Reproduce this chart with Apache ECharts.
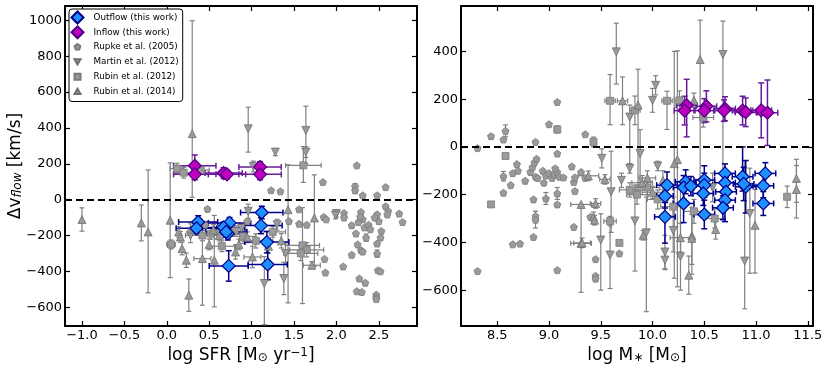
<!DOCTYPE html>
<html>
<head>
<meta charset="utf-8">
<script src="https://cdn.jsdelivr.net/npm/echarts@6/dist/echarts.min.js"></script>
<style>
html, body { margin: 0; padding: 0; background: #fff; }
#chart { width: 830px; height: 374px; }
</style>
</head>
<body>
<div id="chart"></div>
<script>
// each point: [x, y, xerr, yerr down, yerr up]
var outflowSfr = [
    [0.37, -125, 0.23, 35, 35], [0.35, -160, 0.24, 30, 30], [0.74, -130, 0.25, 30, 30],
    [0.67, -155, 0.25, 30, 30], [0.72, -190, 0.22, 35, 35], [0.70, -180, 0.24, 30, 30],
    [1.12, -72, 0.25, 35, 35], [1.11, -145, 0.25, 45, 45], [1.18, -237, 0.26, 60, 60],
    [0.73, -370, 0.23, 85, 85], [1.19, -362, 0.23, 85, 85]
];
var inflowSfr = [
    [0.33, 189, 0.25, 35, 60], [0.33, 141, 0.25, 30, 30], [0.67, 148, 0.22, 30, 30],
    [0.71, 141, 0.22, 25, 25], [1.10, 182, 0.25, 30, 30], [1.10, 141, 0.25, 30, 30]
];
var rupkeSfr = [
    [1.23, 52], [1.34, 46], [0.48, -52], [1.84, 98], [1.86, -331], [1.87, -407], [2.24, 191],
    [2.22, 74, 0, 15, 15], [2.22, 51], [2.31, 24], [2.48, 24], [2.58, 70], [2.58, -37], [2.61, -63],
    [2.60, -83], [2.74, -78], [2.78, -125], [2.09, -75], [2.09, -100], [2.18, -143], [2.23, -189],
    [2.29, -69], [2.31, -110], [2.33, -155], [2.38, -140], [2.35, -212, 0, 20, 20], [2.48, -82],
    [2.50, -120], [2.53, -175], [2.48, -245], [2.48, -301, 0, 20, 20], [2.18, -308], [2.08, -373],
    [2.29, -282], [2.31, -290], [2.25, -250], [2.49, -394], [2.52, -400], [2.27, -440], [2.34, -464],
    [2.24, -511], [2.30, -515], [2.47, -530], [2.47, -545], [2.47, -555], [1.85, -97], [1.88, -110],
    [2.26, -125], [2.28, -95, 0, 20, 20], [2.40, -165], [2.45, -100], [2.52, -212], [1.56, -54],
    [1.56, -135], [1.44, -120], [1.65, -140], [0.45, -140], [0.95, -120]
];
var martinSfr = [
    [0.96, 395, 0, 130, 120], [1.64, 386, 0, 185, 135], [1.64, 265, 0, 30, 30], [1.28, 265, 0, 20, 20],
    [2.00, -78, 0, 20, 20], [1.99, -87, 0, 20, 20], [1.15, -468, 0, 230, 150], [1.40, -300, 0, 60, 60],
    [1.38, -440, 0, 90, 90], [1.02, 185, 0, 30, 30], [0.28, -200, 0, 40, 40], [0.60, -190, 0, 30, 30],
    [0.96, -65, 0, 40, 40], [1.30, -140, 0, 30, 30], [0.88, -160, 0, 25, 25]
];
var rubin12Sfr = [
    [1.61, 191, 0.21, 95, 105], [0.05, -250, 0.05, 25, 25], [0.12, 173, 0.08, 30, 30],
    [0.40, 165, 0.1, 25, 25], [0.20, 150, 0.1, 30, 30], [1.60, -255, 0.2, 325, 210],
    [1.65, -280, 0.2, 40, 40], [1.58, -300, 0.2, 40, 40], [0.90, -205, 0.15, 40, 40],
    [0.52, -190, 0.15, 30, 30], [1.05, -230, 0.2, 40, 40], [0.42, -200, 0.2, 30, 30],
    [0.80, -175, 0.15, 30, 30], [1.25, -180, 0.15, 30, 30], [0.65, -260, 0.15, 30, 30]
];
var rubin14Sfr = [
    [-1.00, -111, 0, 65, 65], [-0.30, -130, 0, 100, 100], [-0.22, -180, 0, 340, 345],
    [0.04, -115, 0, 320, 320], [0.30, 368, 0, 355, 630], [0.14, -180, 0, 30, 30],
    [0.16, -208, 0, 30, 30], [0.18, -273, 0, 35, 35], [0.23, -338, 0, 40, 40],
    [0.26, -533, 0, 90, 90], [0.42, -329, 0.1, 260, 160], [0.56, -338, 0, 260, 250],
    [0.81, -292, 0, 40, 40], [1.01, -320, 0.1, 60, 60], [1.71, -366, 0.1, 20, 20],
    [1.74, -102, 0, 270, 240], [1.43, -56, 0, 520, 250], [0.28, -165, 0, 30, 30],
    [0.55, -170, 0, 30, 30], [0.62, -200, 0, 30, 30], [0.95, -210, 0, 30, 30],
    [1.35, -230, 0, 40, 40], [0.50, -250, 0, 30, 30], [0.85, -250, 0, 30, 30], [1.20, -260, 0, 40, 40]
];

var outflowMass = [
    [10.14, -160, 0.1, 55, 55], [10.12, -206, 0.08, 50, 50], [10.12, -293, 0.1, 110, 60],
    [10.32, -146, 0.1, 50, 50], [10.30, -170, 0.1, 50, 50], [10.30, -237, 0.1, 80, 60],
    [10.37, -164, 0.1, 40, 40], [10.50, -139, 0.1, 60, 60], [10.50, -160, 0.08, 50, 50],
    [10.49, -195, 0.1, 50, 50], [10.50, -283, 0.1, 60, 60], [10.70, -111, 0.1, 40, 40],
    [10.70, -150, 0.1, 50, 50], [10.71, -188, 0.1, 60, 60], [10.70, -223, 0.1, 90, 70],
    [10.68, -255, 0.1, 50, 50], [10.87, -125, 0.1, 60, 125], [10.90, -167, 0.1, 110, 110],
    [10.88, -155, 0.1, 70, 70], [11.09, -111, 0.1, 45, 45], [11.07, -163, 0.1, 50, 50],
    [11.07, -237, 0.1, 50, 50]
];
var inflowMass = [
    [10.33, 174, 0.1, 132, 109], [10.31, 152, 0.1, 60, 60], [10.52, 170, 0.1, 65, 65],
    [10.50, 152, 0.1, 50, 50], [10.70, 160, 0.1, 50, 50], [10.69, 152, 0.1, 45, 45],
    [10.87, 152, 0.1, 60, 60], [10.90, 145, 0.1, 60, 60], [11.05, 153, 0.1, 115, 115],
    [11.11, 143, 0.1, 137, 137]
];
var rupkeMass = [
    [8.31, -5], [8.31, -520], [8.44, 45], [8.56, 31], [8.58, 67, 0, 25, 25], [8.56, -123, 0, 20, 20],
    [8.56, -192], [8.63, -160], [8.65, -110], [8.69, -72], [8.70, -100], [8.77, -142], [8.82, -105],
    [8.84, -85], [8.86, -65], [8.88, -50], [8.87, -125], [8.89, -130], [8.85, -220],
    [8.87, -290, 0, 20, 20], [8.87, -305, 0, 35, 35], [8.85, -377], [8.65, -408], [8.72, -405],
    [8.87, 21], [8.94, -100], [8.97, -120], [9.00, -110], [9.03, -130], [9.05, -115], [9.08, -105],
    [9.10, -125], [9.00, 95], [9.08, 188], [9.08, -28], [8.97, -216, 0, 25, 25], [9.08, -195, 0, 25, 25],
    [9.08, -241], [9.08, -516], [9.14, -128], [9.22, -82], [9.24, -147], [9.25, -128], [9.25, -185],
    [9.24, -335], [9.35, 53], [9.31, -105], [9.35, -130], [9.40, -293], [9.45, -470], [9.45, -540],
    [9.45, -552], [9.68, -446], [9.06, -90], [8.95, -150]
];
var martinMass = [
    [9.65, 398, 0, 135, 120], [9.78, 125, 0, 195, 50], [10.03, 258, 0, 40, 40], [10.00, 195, 0, 50, 50],
    [9.88, -28, 0, 120, 100], [9.51, -48, 0, 40, 40], [9.60, -188, 0, 170, 170], [9.50, -390, 0, 210, 110],
    [9.59, -453, 0, 140, 140], [10.27, -460, 0, 140, 300], [10.89, -478, 0, 200, 420],
    [10.94, -279, 0, 250, 190], [10.68, 387, 0, 580, 140], [9.94, -360, 0, 330, 150],
    [10.12, -440, 0, 70, 70], [10.12, -474, 0, 40, 40], [9.78, -90, 0, 20, 20], [9.70, -140, 0, 30, 30],
    [10.05, -80, 0, 20, 20], [9.83, -310, 0, 210, 150], [10.20, -350, 0, 90, 90], [10.58, -170, 0, 60, 60]
];
var rubin12Mass = [
    [8.44, -241], [8.58, -38], [9.08, 73, 0, 15, 15], [9.43, 21, 0, 20, 20], [9.59, 193, 0.05, 100, 110],
    [9.83, 153, 0.05, 60, 60], [10.14, 193, 0.05, 120, 40], [10.26, 195, 0.05, 40, 40],
    [10.49, 123, 0.1, 40, 40], [11.30, -209, 0, 45, 45], [9.59, -311, 0.06, 20, 20], [9.68, -402],
    [9.78, -180, 0.1, 30, 30], [9.85, -200, 0.1, 40, 40], [9.95, -170, 0.12, 30, 30],
    [10.05, -220, 0.1, 40, 40], [10.20, -250, 0.12, 40, 40], [10.40, -270, 0.1, 50, 50],
    [10.60, -300, 0.1, 40, 40]
];
var rubin14Mass = [
    [9.71, 193, 0.05, 100, 100], [9.86, 175, 0, 360, 150], [10.24, -53, 0, 533, 455],
    [10.21, -70, 0, 480, 470], [10.40, 195, 0, 30, 30], [10.46, 366, 0, 500, 165],
    [9.31, -241, 0.1, 0, 0], [9.31, -404, 0.1, 205, 160], [9.38, -121, 0.1, 20, 20],
    [9.54, -136, 0.05, 20, 20], [9.45, -237, 0.05, 20, 20], [9.43, -293, 0, 20, 20],
    [9.44, -307, 0, 20, 20], [9.32, -402, 0.08, 20, 20], [9.91, -370, 0, 20, 20],
    [10.35, -537, 0, 80, 80], [10.27, -380, 0.1, 60, 60], [10.38, -372, 0, 120, 120],
    [10.61, -346, 0, 40, 40], [10.38, -383, 0, 150, 100], [10.99, -328, 0, 200, 150],
    [11.39, -132, 0, 100, 80], [11.39, -178, 0, 120, 100], [9.90, -150, 0.1, 30, 30],
    [9.95, -130, 0.08, 30, 30], [10.00, -190, 0.1, 25, 25], [10.10, -140, 0, 40, 40]
];

var sfrTicks = [-1.0, -0.5, 0.0, 0.5, 1.0, 1.5, 2.0, 2.5];
var massTicks = [8.5, 9.0, 9.5, 10.0, 10.5, 11.0, 11.5];
var dvTicksLeft = [-600, -400, -200, 0, 200, 400, 600, 800, 1000];
var dvTicksRight = [-600, -400, -200, 0, 200, 400];

var FONT = 'DejaVu Sans';
var myChart = echarts.init(document.getElementById('chart'));

function minus(s) { return String(s).replace('-', '\u2212'); }

function errRender(color, width, cap) {
    return function (params, api) {
        var x = api.value(0), y = api.value(1);
        var xe = api.value(2), ylo = api.value(3), yhi = api.value(4);
        var st = {stroke: color, lineWidth: width};
        var kids = [];
        if (ylo || yhi) {
            var t = api.coord([x, y + yhi]), b = api.coord([x, y - ylo]);
            kids.push({type: 'line', shape: {x1: t[0], y1: t[1], x2: b[0], y2: b[1]}, style: st});
            kids.push({type: 'line', shape: {x1: t[0] - cap, y1: t[1], x2: t[0] + cap, y2: t[1]}, style: st});
            kids.push({type: 'line', shape: {x1: b[0] - cap, y1: b[1], x2: b[0] + cap, y2: b[1]}, style: st});
        }
        if (xe) {
            var l = api.coord([x - xe, y]), r = api.coord([x + xe, y]);
            kids.push({type: 'line', shape: {x1: l[0], y1: l[1], x2: r[0], y2: r[1]}, style: st});
            kids.push({type: 'line', shape: {x1: l[0], y1: l[1] - cap, x2: l[0], y2: l[1] + cap}, style: st});
            kids.push({type: 'line', shape: {x1: r[0], y1: r[1] - cap, x2: r[0], y2: r[1] + cap}, style: st});
        }
        return {type: 'group', children: kids};
    };
}

var PENT = 'path://M0,-1L0.951,-0.309L0.588,0.809L-0.588,0.809L-0.951,-0.309Z';
var TDOWN = 'path://M-1,-0.85L1,-0.85L0,0.9Z';
var TUP = 'path://M-1,0.85L1,0.85L0,-0.9Z';
var SQ = 'path://M-1,-1L1,-1L1,1L-1,1Z';
var DIAM = 'path://M0,-1L1,0L0,1L-1,0Z';

// legend icons: a zero-length frame around the shape keeps them small
function smallIcon(p) {
    return 'path://M-2,-2L-2,-2M2,2L2,2M' + p.slice(8);
}

var sets = [
    {name: 'Rupke et al. (2005)', sfr: rupkeSfr, mass: rupkeMass, symbol: PENT, size: 7,
     fill: '#9a9a9a', edge: '#7a7a7a', err: '#808080', ew: 1.2, cap: 2.5},
    {name: 'Martin et al. (2012)', sfr: martinSfr, mass: martinMass, symbol: TDOWN, size: 8,
     fill: '#9a9a9a', edge: '#6e6e6e', err: '#808080', ew: 1.2, cap: 2.5},
    {name: 'Rubin et al. (2012)', sfr: rubin12Sfr, mass: rubin12Mass, symbol: SQ, size: 7,
     fill: '#9a9a9a', edge: '#7a7a7a', err: '#808080', ew: 1.2, cap: 2.5},
    {name: 'Rubin et al. (2014)', sfr: rubin14Sfr, mass: rubin14Mass, symbol: TUP, size: 8,
     fill: '#9a9a9a', edge: '#6e6e6e', err: '#808080', ew: 1.2, cap: 2.5},
    {name: 'Outflow (this work)', sfr: outflowSfr, mass: outflowMass, symbol: 'diamond', size: 13,
     fill: '#1e90ff', edge: '#00008b', err: '#00008b', ew: 1.5, cap: 3},
    {name: 'Inflow (this work)', sfr: inflowSfr, mass: inflowMass, symbol: 'diamond', size: 13,
     fill: '#c000c0', edge: '#4b0082', err: '#6a1b9a', ew: 1.5, cap: 3}
];

function norm(d) { return [d[0], d[1], d[2] || 0, d[3] || 0, d[4] || 0]; }

var series = [];
[['sfr', 0, 0], ['mass', 2, 2]].forEach(function (p) {
    sets.forEach(function (s) {
        series.push({
            type: 'custom', name: s.name + ' err', coordinateSystem: 'cartesian2d',
            xAxisIndex: p[1], yAxisIndex: p[2], silent: true, clip: true,
            renderItem: errRender(s.err, s.ew, s.cap),
            data: s[p[0]].map(norm)
        });
        series.push({
            type: 'scatter', name: s.name, xAxisIndex: p[1], yAxisIndex: p[2],
            symbol: s.symbol, symbolSize: s.size, clip: true,
            itemStyle: {color: s.fill, borderColor: s.edge, borderWidth: s.size > 10 ? 1.2 : 0.8, opacity: 1},
            data: s[p[0]].map(function (d) { return [d[0], d[1]]; })
        });
    });
    series.push({
        type: 'line', name: 'zero', xAxisIndex: p[1], yAxisIndex: p[2], data: [], silent: true,
        markLine: {
            silent: true, symbol: 'none', label: {show: false},
            lineStyle: {color: '#000', width: 2, type: [7, 4]},
            data: [{yAxis: 0}]
        }
    });
});

var lineStyle = {color: '#000', width: 2};
function xAx(grid, pos, min, max, ticks, name) {
    return {
        type: 'value', gridIndex: grid, position: pos, min: min, max: max,
        axisLine: {show: true, onZero: false, lineStyle: lineStyle},
        axisTick: {show: true, inside: true, length: 5, customValues: ticks, lineStyle: {color: '#000', width: 1.2}},
        axisLabel: {show: pos === 'bottom', customValues: ticks, margin: 3, fontSize: 13, fontFamily: FONT, color: '#000',
            formatter: function (v) { return minus(v.toFixed(1)); }},
        splitLine: {show: false},
        name: pos === 'bottom' ? name : '', nameLocation: 'middle', nameGap: 21, nameMoveOverlap: false,
        nameTextStyle: {fontSize: 17, fontFamily: FONT, color: '#000',
            rich: {
                n: {fontSize: 17, fontFamily: FONT, color: '#000'},
                sub: {fontSize: 12, fontFamily: FONT, color: '#000', verticalAlign: 'bottom'},
                sup: {fontSize: 12, fontFamily: FONT, color: '#000', verticalAlign: 'top'}
            }}
    };
}
function yAx(grid, pos, min, max, ticks, name) {
    return {
        type: 'value', gridIndex: grid, position: pos, min: min, max: max,
        axisLine: {show: true, onZero: false, lineStyle: lineStyle},
        axisTick: {show: true, inside: true, length: 5, customValues: ticks, lineStyle: {color: '#000', width: 1.2}},
        axisLabel: {show: pos === 'left', customValues: ticks, margin: 3, fontSize: 13, fontFamily: FONT, color: '#000',
            formatter: function (v) { return minus(v); }},
        splitLine: {show: false},
        name: name || '', nameLocation: 'middle', nameGap: 41, nameRotate: 90, nameMoveOverlap: false,
        nameTextStyle: {fontSize: 17, fontFamily: FONT, color: '#000',
            rich: {
                n: {fontSize: 17, fontFamily: FONT, color: '#000'},
                sub: {fontSize: 12, fontFamily: FONT, fontStyle: 'italic', color: '#000', verticalAlign: 'bottom'}
            }}
    };
}

myChart.setOption({
    animation: false,
    backgroundColor: '#fff',
    grid: [
        {left: 65, top: 6, width: 352, height: 320},
        {left: 461, top: 6, width: 352, height: 320}
    ],
    xAxis: [
        xAx(0, 'bottom', -1.2, 2.95, sfrTicks, '{n|log SFR [M}{sub|\u2299}{n| yr}{sup|\u22121}{n|]}'),
        xAx(0, 'top', -1.2, 2.95, sfrTicks),
        xAx(1, 'bottom', 8.15, 11.55, massTicks, '{n|log M}{sub|\u2217}{n| [M}{sub|\u2299}{n|]}'),
        xAx(1, 'top', 8.15, 11.55, massTicks)
    ],
    yAxis: [
        yAx(0, 'left', -705, 1080, dvTicksLeft, '{n|\u0394v}{sub|flow}{n| [km/s]}'),
        yAx(0, 'right', -705, 1080, dvTicksLeft),
        yAx(1, 'left', -750, 590, dvTicksRight),
        yAx(1, 'right', -750, 590, dvTicksRight)
    ],
    legend: {
        orient: 'vertical', left: 69, top: 9, padding: [1.5, 4, 3, 1.5],
        itemGap: 0.8, itemWidth: 22, itemHeight: 12, selectedMode: false,
        backgroundColor: '#fff', borderColor: '#000', borderWidth: 1, borderRadius: 3,
        textStyle: {fontSize: 8.8, fontFamily: FONT, color: '#000'},
        data: [
            {name: 'Outflow (this work)', icon: DIAM},
            {name: 'Inflow (this work)', icon: DIAM},
            {name: 'Rupke et al. (2005)', icon: smallIcon(PENT)},
            {name: 'Martin et al. (2012)', icon: smallIcon(TDOWN)},
            {name: 'Rubin et al. (2012)', icon: smallIcon(SQ)},
            {name: 'Rubin et al. (2014)', icon: smallIcon(TUP)}
        ]
    },
    series: series
});
</script>
</body>
</html>
